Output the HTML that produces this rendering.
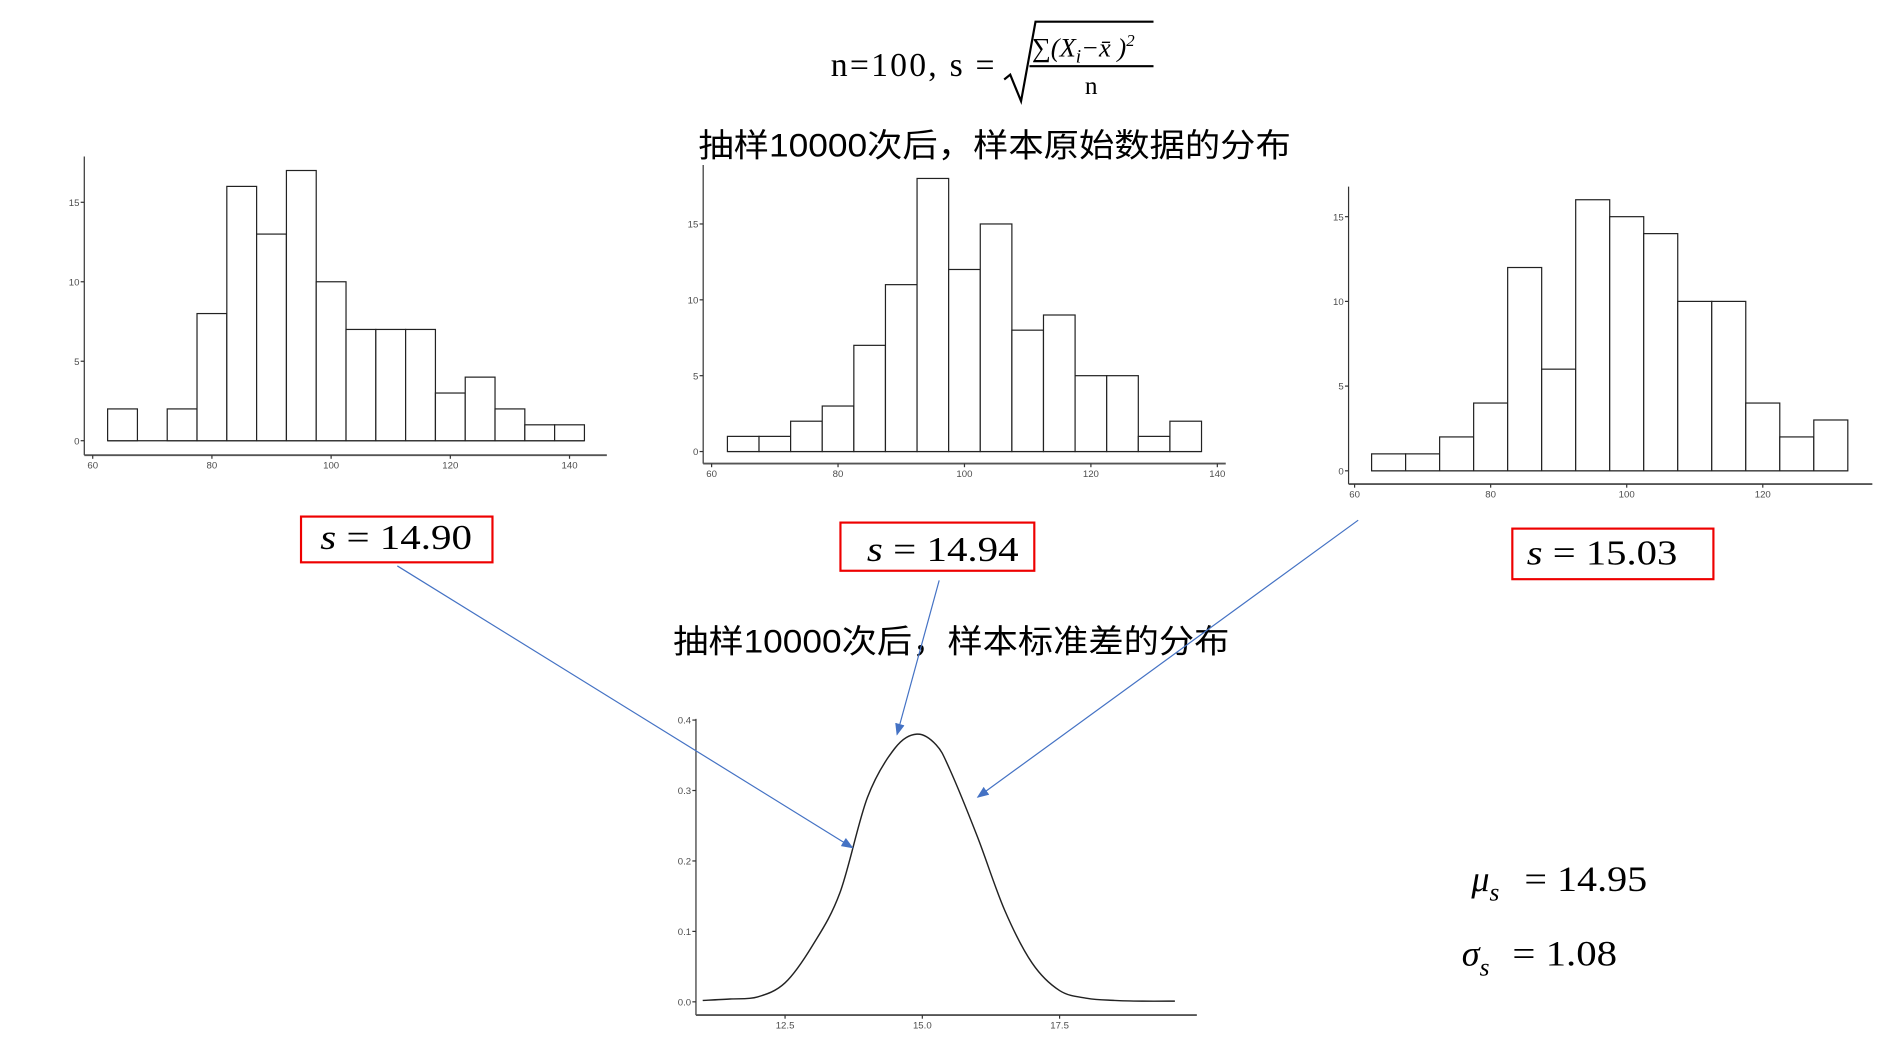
<!DOCTYPE html>
<html><head><meta charset="utf-8"><style>
html,body{margin:0;padding:0;background:#fff;overflow:hidden}
svg{display:block}
.tk{font-family:"Liberation Sans",sans-serif;font-size:8px;fill:#4d4d4d}
.cn{font-family:"Liberation Sans","Noto Sans CJK SC",sans-serif;font-size:27px;fill:#000}
.ser{font-family:"Liberation Serif",serif;fill:#000}
</style></head><body>
<svg id="s" width="1888" height="1050" viewBox="0 0 1568 872" preserveAspectRatio="none" xmlns="http://www.w3.org/2000/svg">
<g>
<text class="ser" x="690" y="63" font-size="28" textLength="136" lengthAdjust="spacing">n=100, s =</text>
<polyline points="834,66 839,62 848,84 860,18 958,18" fill="none" stroke="#000" stroke-width="1.8"/>
<text class="ser" x="857" y="47" font-size="22" font-style="italic">∑(X<tspan font-size="16" dy="5">i</tspan><tspan dy="-5">−x̄ )</tspan><tspan font-size="14" dy="-9">2</tspan></text>
<line x1="855" y1="55" x2="958" y2="55" stroke="#000" stroke-width="1.8"/>
<text class="ser" x="901" y="78" font-size="21">n</text>
</g>
<text class="cn" x="580" y="130" textLength="492" lengthAdjust="spacingAndGlyphs">抽样10000次后，样本原始数据的分布</text>
<text class="cn" x="559" y="542" textLength="462" lengthAdjust="spacingAndGlyphs">抽样10000次后，样本标准差的分布</text>
<g id="h1"></g>
<g id="h2"></g>
<g id="h3"></g>
<g id="dens"></g>
<g><rect x="250" y="429" width="159" height="38" fill="none" stroke="#e00" stroke-width="1.8"/><text class="ser" x="266" y="456" font-size="29" textLength="126" lengthAdjust="spacingAndGlyphs"><tspan font-style="italic">s</tspan> = 14.90</text></g>
<g><rect x="698" y="434" width="161" height="40" fill="none" stroke="#e00" stroke-width="1.8"/><text class="ser" x="720" y="466" font-size="29" textLength="126" lengthAdjust="spacingAndGlyphs"><tspan font-style="italic">s</tspan> = 14.94</text></g>
<g><rect x="1256" y="439" width="167" height="42" fill="none" stroke="#e00" stroke-width="1.8"/><text class="ser" x="1268" y="469" font-size="29" textLength="125" lengthAdjust="spacingAndGlyphs"><tspan font-style="italic">s</tspan> = 15.03</text></g>
<text class="ser" x="1222" y="740" font-size="30"><tspan font-style="italic">μ</tspan><tspan font-style="italic" font-size="21" dy="8">s</tspan><tspan dy="-8" x="1266" textLength="102" lengthAdjust="spacingAndGlyphs">= 14.95</tspan></text>
<text class="ser" x="1214" y="802" font-size="30"><tspan font-style="italic">σ</tspan><tspan font-style="italic" font-size="21" dy="8">s</tspan><tspan dy="-8" x="1256" textLength="87" lengthAdjust="spacingAndGlyphs">= 1.08</tspan></text>
<defs><marker id="ah" markerWidth="10" markerHeight="8" refX="9" refY="4" orient="auto" markerUnits="userSpaceOnUse"><path d="M0,0 L10,4 L0,8 Z" fill="#4472C4"/></marker></defs>
<line x1="330" y1="470" x2="708" y2="704" stroke="#4472C4" stroke-width="1" marker-end="url(#ah)"/>
<line x1="780" y1="482" x2="745" y2="610" stroke="#4472C4" stroke-width="1" marker-end="url(#ah)"/>
<line x1="1128" y1="432" x2="812" y2="662" stroke="#4472C4" stroke-width="1" marker-end="url(#ah)"/>
</svg>
<script>
const counts1=[2,0,2,8,16,13,17,10,7,7,7,3,4,2,1,1];
const counts2=[1,1,2,3,7,11,18,12,15,8,9,5,5,1,2];
const counts3=[1,1,2,4,12,6,16,15,14,10,10,4,2,3];
const binStart=62.5, binWidth=5;
const xTicks1=[60,80,100,120,140];
const xTicks2=[60,80,100,120,140];
const xTicks3=[60,80,100,120];
const yTicksHist=[0,5,10,15];
const densX=[11.0,11.5,12.0,12.5,13.0,13.5,14.0,14.5,14.9,15.25,15.5,16.0,16.5,17.0,17.5,18.0,18.5,19.0,19.6];
const densY=[0.002,0.004,0.007,0.027,0.08,0.155,0.29,0.36,0.38,0.365,0.33,0.235,0.13,0.055,0.016,0.005,0.002,0.001,0.001];
const densXTicks=[12.5,15.0,17.5];
const densYTicks=[0.0,0.1,0.2,0.3,0.4];
const NS="http://www.w3.org/2000/svg";
function mk(p,t,a){const e=document.createElementNS(NS,t);for(const k in a)e.setAttribute(k,a[k]);p.appendChild(e);return e;}
function axes(g,L,T,R,B,xs,ys,xt,yt,fmt){
  const ya=mk(g,'line',{x1:L,y1:T,x2:L,y2:B,stroke:'#333','stroke-width':1});
  
  const xa=mk(g,'line',{x1:L,y1:B,x2:R,y2:B,stroke:'#555','stroke-width':1.6});
  
  xt.forEach(v=>{const x=xs(v);mk(g,'line',{x1:x,y1:B,x2:x,y2:B+3,stroke:'#333'});
    const t=mk(g,'text',{x:x,y:B+11,'text-anchor':'middle',class:'tk'});t.textContent=fmt?fmt(v):v;
    });
  yt.forEach(v=>{const y=ys(v);mk(g,'line',{x1:L-3,y1:y,x2:L,y2:y,stroke:'#333'});
    const t=mk(g,'text',{x:L-4,y:y+3,'text-anchor':'end',class:'tk'});t.textContent=fmt?v.toFixed(1):v;
    });
}
function hist(id,counts,xt,L,T,R,B,x0px,xUnit,y0px,yUnit){
  const g=document.getElementById(id);
  const xs=v=>x0px+(v-60)*xUnit, ys=v=>y0px-v*yUnit;
  axes(g,L,T,R,B,xs,ys,xt,yTicksHist);
  const bl=mk(g,'line',{x1:xs(binStart),y1:ys(0),x2:xs(binStart+counts.length*binWidth),y2:ys(0),stroke:'#222','stroke-width':1});
  
  counts.forEach((c,i)=>{const a=binStart+i*binWidth;
    const r=mk(g,'rect',{x:xs(a),y:ys(c),width:binWidth*xUnit,height:c*yUnit,fill:'#fff',stroke:'#222','stroke-width':1});
    });
}
hist('h1',counts1,xTicks1,70,130,504,378,77,4.95,366,13.2);
hist('h2',counts2,xTicks2,584,137,1018,385,591,5.25,375,12.6);
hist('h3',counts3,xTicks3,1120,155,1555,402,1125,5.65,391,14.07);
(function(){
  const g=document.getElementById('dens');
  const xs=v=>766+(v-15)*45.6, ys=v=>832-v*585;
  axes(g,578,597,994,843,xs,ys,densXTicks,densYTicks,v=>v.toFixed(1));
  const pts=densX.map((x,i)=>[xs(x),ys(densY[i])]);
  let d='M'+pts[0][0]+','+pts[0][1];
  for(let i=0;i<pts.length-1;i++){const p0=pts[Math.max(0,i-1)],p1=pts[i],p2=pts[i+1],p3=pts[Math.min(pts.length-1,i+2)];
    d+=` C${p1[0]+(p2[0]-p0[0])/6},${p1[1]+(p2[1]-p0[1])/6} ${p2[0]-(p3[0]-p1[0])/6},${p2[1]-(p3[1]-p1[1])/6} ${p2[0]},${p2[1]}`;}
  const c=mk(g,'path',{d:d,fill:'none',stroke:'#222','stroke-width':1.2});
  
})();
</script>
</body></html>
